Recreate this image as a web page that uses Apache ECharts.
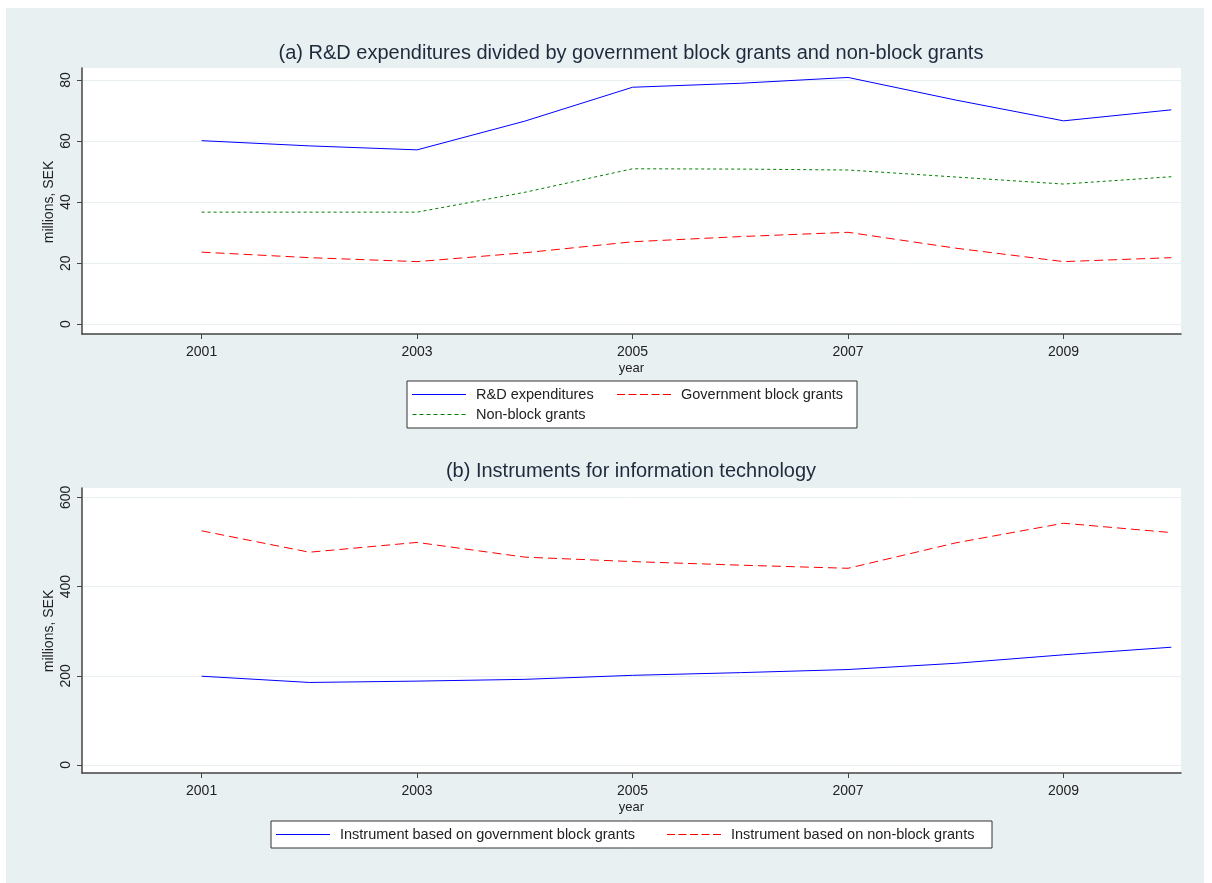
<!DOCTYPE html>
<html>
<head>
    <meta charset="utf-8">
    <title>R&amp;D expenditures and instruments</title>
    <script src="https://cdn.jsdelivr.net/npm/echarts@6/dist/echarts.min.js"></script>
    <style type="text/css">
        body { margin: 0; background: #fff; }
        #main { width: 1212px; height: 883px; }
    </style>
</head>
<body>
    <div id="main"></div>
    <script type="text/javascript">
        // years and tick labels
        var years = [2001, 2002, 2003, 2004, 2005, 2006, 2007, 2008, 2009, 2010];
        var yearTicks = [2001, 2003, 2005, 2007, 2009];
        var ticksTop = [0, 20, 40, 60, 80];
        var ticksBottom = [0, 200, 400, 600];

        // (a) millions SEK
        var rdExp = [60.1, 58.4, 57.1, 66.5, 77.6, 78.9, 80.8, 73.4, 66.6, 70.2];
        var blockGrants = [23.6, 21.8, 20.5, 23.4, 27.0, 28.7, 30.1, 24.9, 20.5, 21.8];
        var nonBlockGrants = [36.7, 36.7, 36.7, 43.2, 50.9, 50.8, 50.5, 48.2, 45.9, 48.3];

        // (b) millions SEK
        var instBlock = [199, 185, 188, 192, 201, 207, 214, 228, 247, 264];
        var instNonBlock = [525, 477, 499, 466, 456, 448, 441, 498, 542, 521];

        function pairs(vals) {
            return years.map(function (y, i) { return [y, vals[i]]; });
        }

        var txt = '#222';
        var font = 'Liberation Sans';
        var BLUE = '#0000ff', RED = '#ff0000', GREEN = '#008000';
        var DASH = [9, 5], DOT = [3, 3];

        // legend keys drawn as thin paths (solid / dashed / dotted)
        var ICON_SOLID = 'path://M0,0h54v1h-54z';
        var ICON_DASH = 'path://M0,0h8v1h-8zM11.5,0h8v1h-8zM23,0h8v1h-8zM34.5,0h8v1h-8zM46,0h8v1h-8z';
        var ICON_DOT = 'path://M0,0h4v1h-4zM7,0h4v1h-4zM14,0h4v1h-4zM21,0h4v1h-4zM28,0h4v1h-4zM35,0h4v1h-4zM42,0h4v1h-4zM49,0h4v1h-4z';

        function xAx(idx) {
            return {
                type: 'value', gridIndex: idx, min: 1999.89, max: 2010.09,
                name: 'year', nameLocation: 'middle', nameGap: 28,
                nameTextStyle: { color: txt, fontSize: 13, fontFamily: font },
                axisLine: { onZero: false, lineStyle: { color: '#444', width: 1.5 } },
                axisTick: { customValues: yearTicks, length: 5, lineStyle: { color: '#444' } },
                axisLabel: { customValues: yearTicks, formatter: function (v) { return String(v); },
                             color: txt, fontSize: 14, fontFamily: font, margin: 11 },
                splitLine: { show: false }
            };
        }
        function yAx(idx, min, max, ticks) {
            return {
                type: 'value', gridIndex: idx, min: min, max: max,
                axisLine: { show: true, lineStyle: { color: '#444', width: 1.5 } },
                axisTick: { show: true, customValues: ticks, length: 5, lineStyle: { color: '#444' } },
                axisLabel: { customValues: ticks, rotate: 90, color: txt, fontSize: 14, fontFamily: font, margin: 9 },
                splitLine: { show: true, lineStyle: { color: '#e8eff1', width: 1 } }
            };
        }
        function line(name, vals, color, type, idx) {
            return {
                name: name, type: 'line', xAxisIndex: idx, yAxisIndex: idx,
                data: pairs(vals), symbol: 'none', silent: true,
                lineStyle: { color: color, width: 1, type: type },
                itemStyle: { color: color }
            };
        }
        function yName(x, y) {
            return { type: 'text', x: x, y: y, rotation: Math.PI / 2,
                     style: { text: 'millions, SEK', fill: txt, font: '14px "Liberation Sans"',
                              align: 'center', verticalAlign: 'middle' } };
        }

        var legendText = { color: txt, fontSize: 14.5, fontFamily: font, padding: [0, 0, 0, 5] };
        var legendBase = { padding: 0, itemWidth: 54, itemHeight: 1, selectedMode: false, textStyle: legendText };

        var chart = echarts.init(document.getElementById('main'));
        var option = {
            backgroundColor: '#fff',
            animation: false,
            graphic: [
                { type: 'rect', z: -10, shape: { x: 6, y: 8, width: 1198, height: 875 }, style: { fill: '#e8f0f2' } },
                { type: 'rect', z: -5, shape: { x: 407, y: 381, width: 450, height: 47 }, style: { fill: '#fff', stroke: '#333', lineWidth: 1 } },
                { type: 'rect', z: -5, shape: { x: 271, y: 821, width: 721, height: 27 }, style: { fill: '#fff', stroke: '#333', lineWidth: 1 } },
                yName(49, 202),
                yName(49, 631)
            ],
            title: [
                { text: '(a) R&D expenditures divided by government block grants and non-block grants', left: 631, top: 43, textAlign: 'center', padding: 0,
                  textStyle: { color: '#1e2a3c', fontSize: 20, fontWeight: 'normal', fontFamily: font } },
                { text: '(b) Instruments for information technology', left: 631, top: 461, textAlign: 'center', padding: 0,
                  textStyle: { color: '#1e2a3c', fontSize: 20, fontWeight: 'normal', fontFamily: font } }
            ],
            legend: [
                Object.assign({ orient: 'vertical', left: 412, top: 387, itemGap: 5,
                  data: [{ name: 'R&D expenditures', icon: ICON_SOLID },
                         { name: 'Non-block grants', icon: ICON_DOT }] }, legendBase),
                Object.assign({ orient: 'vertical', left: 617, top: 387,
                  data: [{ name: 'Government block grants', icon: ICON_DASH }] }, legendBase),
                Object.assign({ orient: 'horizontal', left: 276, top: 827, itemGap: 32,
                  data: [{ name: 'Instrument based on government block grants', icon: ICON_SOLID },
                         { name: 'Instrument based on non-block grants', icon: ICON_DASH }] }, legendBase)
            ],
            grid: [
                { left: 82, right: 31, top: 68, height: 266, show: true, backgroundColor: '#fff', borderWidth: 0 },
                { left: 82, right: 31, top: 488, height: 285, show: true, backgroundColor: '#fff', borderWidth: 0 }
            ],
            xAxis: [xAx(0), xAx(1)],
            yAxis: [yAx(0, -3.2, 83.9, ticksTop), yAx(1, -18, 621, ticksBottom)],
            series: [
                line('R&D expenditures', rdExp, BLUE, 'solid', 0),
                line('Government block grants', blockGrants, RED, DASH, 0),
                line('Non-block grants', nonBlockGrants, GREEN, DOT, 0),
                line('Instrument based on government block grants', instBlock, BLUE, 'solid', 1),
                line('Instrument based on non-block grants', instNonBlock, RED, DASH, 1)
            ]
        };
        chart.setOption(option);
    </script>
</body>
</html>
